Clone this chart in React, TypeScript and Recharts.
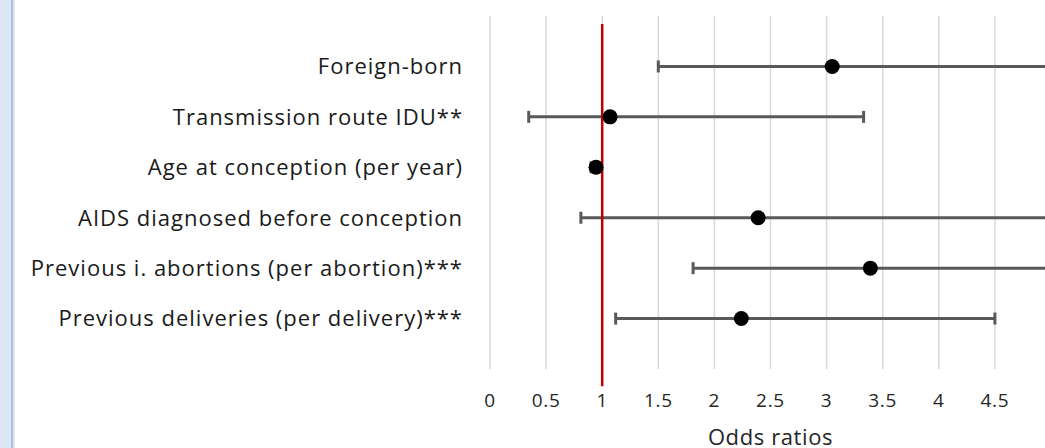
import React from "react";
import {
  ScatterChart,
  Scatter,
  XAxis,
  YAxis,
  CartesianGrid,
  ErrorBar,
  ReferenceLine,
} from "recharts";

// factors listed top to bottom
const factors = [
  "Foreign-born",
  "Transmission route IDU**",
  "Age at conception (per year)",
  "AIDS diagnosed before conception",
  "Previous i. abortions (per abortion)***",
  "Previous deliveries (per delivery)***",
];
const oddsRatios = [3.05, 1.07, 0.945, 2.39, 3.39, 2.24];
const lowerCI = [1.5, 0.345, 0.9, 0.81, 1.81, 1.12];
const upperCI = [6.4, 3.33, 0.99, 6.1, 6.6, 4.5];
const xTicks = [0, 0.5, 1, 1.5, 2, 2.5, 3, 3.5, 4, 4.5, 5];
const refLineY = [-0.34, 6.84];

const rows = factors.map((name, i) => ({
  name,
  y: factors.length - i,
  or: oddsRatios[i],
  err: [oddsRatios[i] - lowerCI[i], upperCI[i] - oddsRatios[i]],
}));

const font = "'Open Sans', 'Noto Sans', sans-serif";

export default function App() {
  return (
    <div
      style={{
        position: "absolute",
        left: 0,
        top: 0,
        width: 1045,
        height: 448,
        overflow: "hidden",
        background: "#fff",
      }}
    >
      {/* window edge on the left */}
      <div
        style={{
          position: "absolute",
          left: 0,
          top: 0,
          width: 11,
          height: 448,
          background: "#dce7f5",
          borderRight: "2px solid #a3c2e8",
        }}
      />
      <div
        style={{
          position: "absolute",
          left: 13,
          top: 0,
          width: 2,
          height: 448,
          background: "#e4e4e4",
        }}
      />
      <ScatterChart
        width={1060}
        height={448}
        margin={{ top: 16, right: 9, bottom: 0, left: 0 }}
        style={{ position: "absolute", left: 0, top: 0 }}
      >
        <CartesianGrid
          horizontal={false}
          stroke="#d9d9d9"
          strokeWidth={1.5}
        />
        <XAxis
          type="number"
          dataKey="or"
          domain={[0, 5]}
          ticks={xTicks}
          interval={0}
          allowDataOverflow
          axisLine={false}
          tickLine={false}
          tickSize={0}
          tickMargin={25}
          height={79}
          tick={{ fill: "#262626", fontSize: 19, fontFamily: font, letterSpacing: 0.7 }}
          label={{
            value: "Odds ratios",
            position: "insideBottom",
            offset: 3,
            fill: "#262626",
            fontSize: 22,
            fontFamily: font,
            letterSpacing: 0.6,
          }}
        />
        <YAxis
          type="number"
          dataKey="y"
          domain={[0, 7]}
          ticks={[1, 2, 3, 4, 5, 6]}
          interval={0}
          width={490}
          axisLine={false}
          tickLine={false}
          tickSize={0}
          tickMargin={27}
          tickFormatter={(v: number) => factors[factors.length - v] ?? ""}
          tick={{ fill: "#1a1a1a", fontSize: 22, fontFamily: font, letterSpacing: 1 }}
        />
        <Scatter
          data={rows}
          fill="#000"
          isAnimationActive={false}
          shape={(p: any) => <circle cx={p.cx} cy={p.cy} r={7.5} fill="#000" />}
        >
          <ErrorBar
            dataKey="err"
            direction="x"
            width={6}
            stroke="#595959"
            strokeWidth={3}
            isAnimationActive={false}
          />
        </Scatter>
        <ReferenceLine
          segment={[
            { x: 1, y: refLineY[0] },
            { x: 1, y: refLineY[1] },
          ]}
          stroke="#c00000"
          strokeWidth={2.5}
          ifOverflow="visible"
        />
      </ScatterChart>
    </div>
  );
}
